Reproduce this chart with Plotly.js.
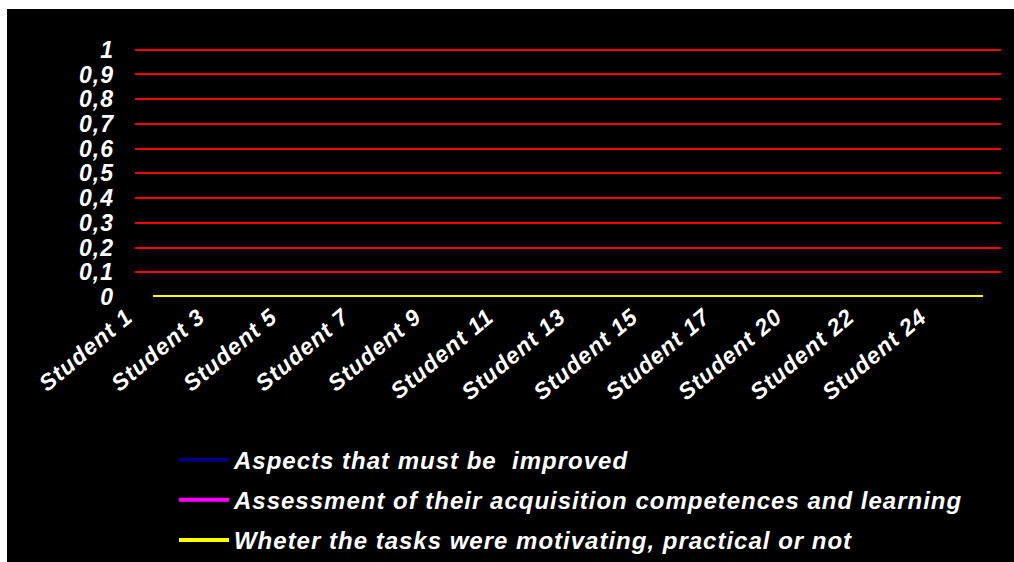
<!DOCTYPE html>
<html>
<head>
<meta charset="utf-8">
<script src="https://cdn.plot.ly/plotly-3.0.1.min.js"></script>
<style>
html, body { margin:0; padding:0; background:#ffffff; width:1014px; height:562px; overflow:hidden; }
#chart { position:absolute; left:7px; top:9px; width:1007px; height:553px; }
svg text { letter-spacing:1px; }
</style>
</head>
<body>
<div id="chart"></div>
<script>
const students = ["Student 1","Student 2","Student 3","Student 4","Student 5","Student 6","Student 7","Student 8",
  "Student 9","Student 10","Student 11","Student 12","Student 13","Student 14","Student 15","Student 16",
  "Student 17","Student 18","Student 20","Student 21","Student 22","Student 23","Student 24","Student 25"];
const tickLabels = ["Student 1","Student 3","Student 5","Student 7","Student 9","Student 11","Student 13",
  "Student 15","Student 17","Student 20","Student 22","Student 24"];
const seriesNames = ["Aspects that must be \u00a0improved",
  "Assessment of their acquisition competences and learning",
  "Wheter the tasks were motivating, practical or not"];
const aspectsImproved = [0,0,0,0,0,0,0,0,0,0,0,0,0,0,0,0,0,0,0,0,0,0,0,0];
const assessmentLearning = [0,0,0,0,0,0,0,0,0,0,0,0,0,0,0,0,0,0,0,0,0,0,0,0];
const tasksMotivating = [0,0,0,0,0,0,0,0,0,0,0,0,0,0,0,0,0,0,0,0,0,0,0,0];
const seriesColors = ["#000080","#ff00ff","#ffff00"];

const font = {family:"Liberation Sans, Arial, sans-serif", size:23, color:"#ffffff", weight:"bold", style:"italic"};
const legendFont = Object.assign({}, font, {size:24});
const values = [aspectsImproved, assessmentLearning, tasksMotivating];
const traces = values.map((v,i)=>({
  type:"scatter", mode:"lines", x:students, y:v, name:seriesNames[i],
  legendgroup:"g"+i, line:{color:seriesColors[i], width:4}, hoverinfo:"skip"
}));

const layout = {
  width:1007, height:553,
  paper_bgcolor:"#000000", plot_bgcolor:"#000000",
  margin:{l:128, r:13, t:37, b:265, autoexpand:false},
  separators:", ",
  font:font,
  showlegend:true,
  xaxis:{type:"category", range:[-0.5,23.5], tickmode:"array", tickvals:tickLabels, ticktext:tickLabels,
    tickangle:-40, showgrid:false, zeroline:false, showline:false, ticks:"", automargin:false,
    ticklabelshift:-26, ticklabelstandoff:1, tickfont:font, fixedrange:true},
  yaxis:{range:[0,1.015], dtick:0.1, tick0:0, showgrid:true, gridcolor:"#ff0000", gridwidth:2,
    zeroline:false, showline:false, ticks:"", automargin:false,
    ticklabelstandoff:20, tickfont:font, fixedrange:true},
  legend:{x:0.045, y:-0.56, xanchor:"left", yanchor:"top", bgcolor:"rgba(0,0,0,0)",
    font:legendFont, traceorder:"grouped", tracegroupgap:6, itemwidth:50}
};
Plotly.newPlot("chart", traces, layout, {staticPlot:true, displayModeBar:false});
</script>
</body>
</html>
